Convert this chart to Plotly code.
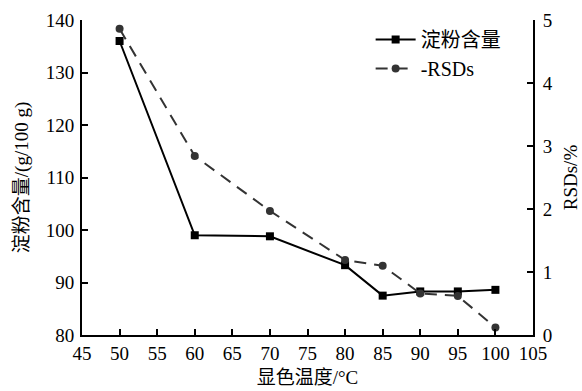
import plotly.graph_objects as go

temps = [50, 60, 70, 80, 85, 90, 95, 100]
starch = [136.0, 99.0, 98.8, 93.3, 87.5, 88.3, 88.3, 88.6]
rsds = [4.86, 2.84, 1.97, 1.19, 1.10, 0.66, 0.62, 0.12]

FONT = "Liberation Serif, Times New Roman, Noto Sans CJK SC, serif"

fig = go.Figure()
fig.add_trace(go.Scatter(
    x=temps, y=starch, name="淀粉含量", mode="lines+markers",
    line=dict(color="black", width=2),
    marker=dict(symbol="square", size=8, color="black"),
))
fig.add_trace(go.Scatter(
    x=temps, y=rsds, name="-RSDs", mode="lines+markers", yaxis="y2",
    line=dict(color="#333333", width=2, dash="12px,8px"),
    marker=dict(symbol="circle", size=8, color="#333333"),
))

axis_common = dict(
    showline=True, linecolor="black", linewidth=2, mirror=False,
    ticks="inside", ticklen=6, tickwidth=2, tickcolor="black",
    showgrid=False, zeroline=False,
    tickfont=dict(family=FONT, size=19, color="black"),
)

title_font = dict(family=FONT, size=19, color="black")

fig.update_layout(
    template="none",
    width=582, height=391,
    margin=dict(l=82, r=49, t=20, b=56),
    paper_bgcolor="white", plot_bgcolor="white",
    font=dict(family=FONT, size=19, color="black"),
    xaxis=dict(range=[45, 105], tick0=45, dtick=5,
               title=dict(text="显色温度/°C", font=title_font, standoff=8),
               **axis_common),
    yaxis=dict(range=[80, 140], dtick=10, ticklabelstandoff=2,
               title=dict(text="淀粉含量/(g/100 g)", font=title_font, standoff=12),
               **axis_common),
    yaxis2=dict(range=[0, 5], dtick=1, overlaying="y", side="right",
                ticklabelstandoff=4,
                title=dict(text="RSDs/%", font=title_font, standoff=12),
                **axis_common),
    legend=dict(x=0.64, y=1.0, xanchor="left", yanchor="top",
                bgcolor="rgba(0,0,0,0)", font=dict(family=FONT, size=20, color="black"),
                itemwidth=40, tracegroupgap=4),
    showlegend=True,
)

fig.write_html("out.html")
